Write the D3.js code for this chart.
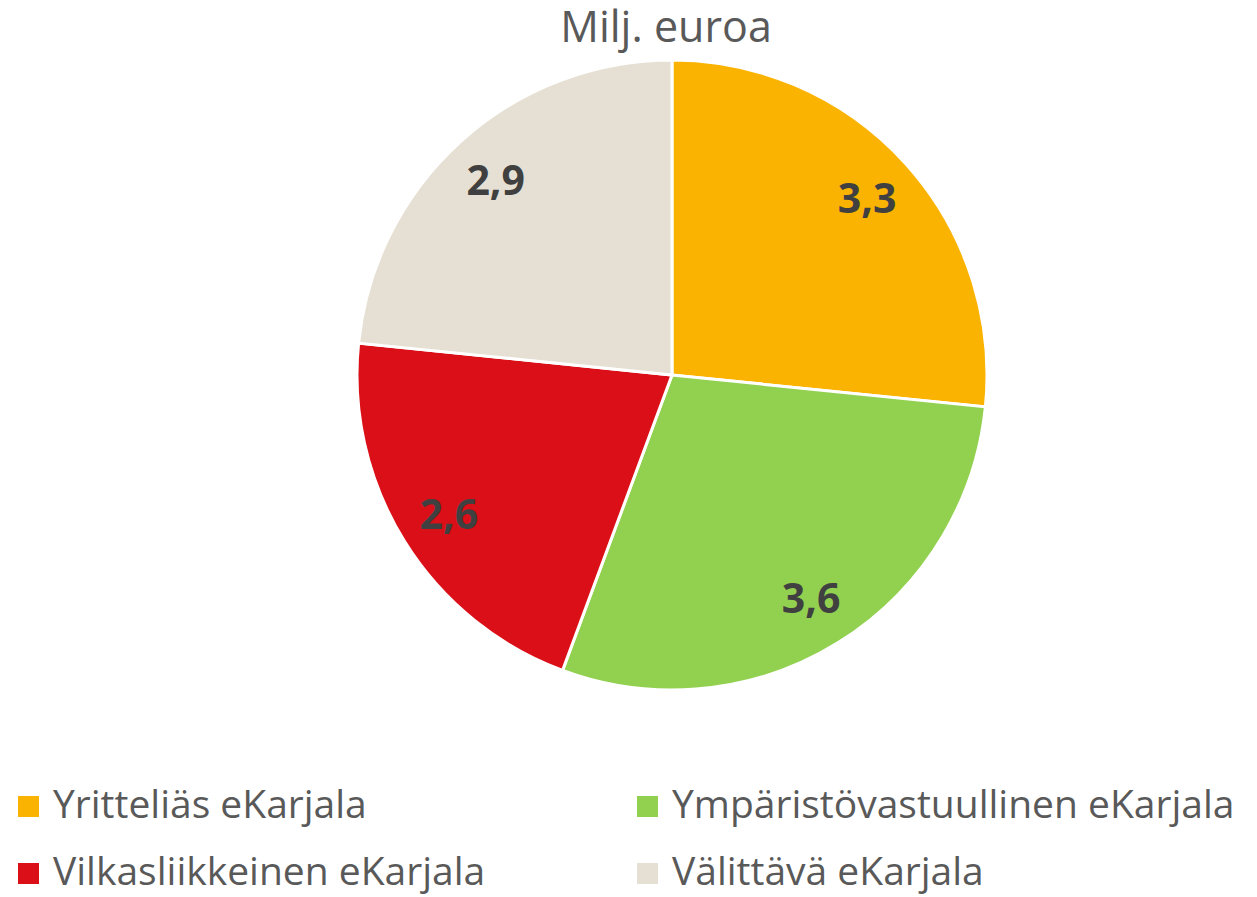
<!DOCTYPE html>
<html>
<head>
<meta charset="utf-8">
<script src="https://cdn.jsdelivr.net/npm/d3@7"></script>
<style>
  body { margin: 0; background: #fff; }
  svg { font-family: "Open Sans", "Noto Sans", sans-serif; }
</style>
</head>
<body>
<svg id="pieChart" width="1257" height="897"></svg>
<script>
const categories = ["Yritteliäs eKarjala", "Ympäristövastuullinen eKarjala", "Vilkasliikkeinen eKarjala", "Välittävä eKarjala"];
const values = [3.3, 3.6, 2.6, 2.9];
const colors = ["#fab300", "#92d050", "#db0f17", "#e6e0d4"];

const svg = d3.select("#pieChart");
const cx = 672, cy = 375, radius = 315;

svg.append("text")
  .attr("x", 666)
  .attr("y", 42)
  .attr("text-anchor", "middle")
  .attr("fill", "#595959")
  .style("font-size", "43px")
  .text("Milj. euroa");

const data = categories.map((c, i) => ({ name: c, value: values[i], color: colors[i] }));

const pie = d3.pie().sort(null).value(d => d.value);
const arc = d3.arc().innerRadius(0).outerRadius(radius);
const labelArc = d3.arc().innerRadius(263).outerRadius(263);

const g = svg.append("g").attr("transform", `translate(${cx}, ${cy})`);

g.selectAll("path")
  .data(pie(data))
  .join("path")
  .attr("d", arc)
  .attr("fill", d => d.data.color)
  .attr("stroke", "#fff")
  .attr("stroke-width", 3);

g.selectAll("text")
  .data(pie(data))
  .join("text")
  .attr("transform", d => `translate(${labelArc.centroid(d)})`)
  .attr("text-anchor", "middle")
  .attr("dy", "0.36em")
  .attr("fill", "#404040")
  .style("font-size", "41px")
  .style("font-weight", "bold")
  .text(d => d3.format(".1f")(d.data.value).replace(".", ","));

// legend, two columns
const legend = svg.append("g");
const items = legend.selectAll("g")
  .data(data)
  .join("g")
  .attr("transform", (d, i) => `translate(${i % 2 === 0 ? 18 : 637}, ${i < 2 ? 796 : 863})`);

items.append("rect")
  .attr("width", 21)
  .attr("height", 21)
  .attr("fill", d => d.color);

items.append("text")
  .attr("x", 35)
  .attr("y", 22)
  .attr("fill", "#595959")
  .style("font-size", "39px")
  .text(d => d.name);
</script>
</body>
</html>
